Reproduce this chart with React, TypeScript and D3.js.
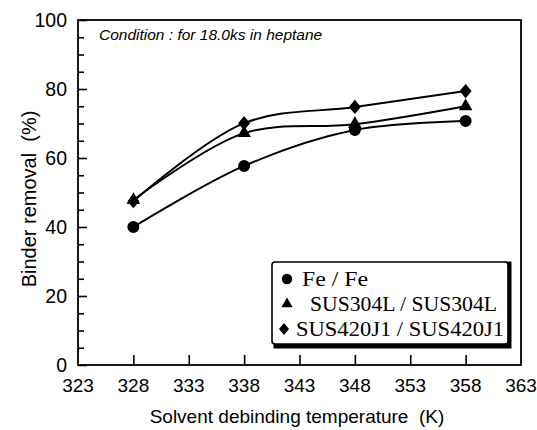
import React, { useRef, useEffect } from 'react';
import * as d3 from 'd3';

const temps = [328, 338, 348, 358];
const feFe = [40, 57.7, 68.1, 70.7];
const sus304 = [47.8, 67.2, 69.8, 75];
const sus420 = [47.5, 70.1, 74.8, 79.4];
const xTicks = [323, 328, 333, 338, 343, 348, 353, 358, 363];
const yTicks = [0, 20, 40, 60, 80, 100];
const seriesNames = ['Fe / Fe', 'SUS304L / SUS304L', 'SUS420J1 / SUS420J1'];

const W = 537;
const H = 430;

// rhombus a bit wider than d3's own diamond
const rhombus = {
  draw(ctx, size) {
    const h = Math.sqrt(size / 1.7);
    const w = h * 0.85;
    ctx.moveTo(0, -h);
    ctx.lineTo(w, 0);
    ctx.lineTo(0, h);
    ctx.lineTo(-w, 0);
    ctx.closePath();
  }
};

const App = () => {
  const svgRef = useRef(null);

  useEffect(() => {
    const svg = d3.select(svgRef.current);
    svg.selectAll('*').remove();

    const x = d3.scaleLinear().domain([323, 363]).range([78, 521]);
    const y = d3.scaleLinear().domain([0, 100]).range([365, 20]);
    const sansNum = "'Liberation Sans', sans-serif";

    // frame
    svg.append('rect')
      .attr('x', x(323)).attr('y', y(100))
      .attr('width', x(363) - x(323)).attr('height', y(0) - y(100))
      .attr('fill', 'none').attr('stroke', '#000').attr('stroke-width', 1.8);

    // y axis (ticks inside)
    const yAxis = d3.axisRight(y)
      .tickValues(d3.range(0, 101, 5))
      .tickSize(6)
      .tickFormat(() => '');
    const gy = svg.append('g').attr('transform', `translate(${x(323)},0)`).call(yAxis);
    gy.select('.domain').remove();
    gy.selectAll('line').attr('stroke-width', 1.6)
      .attr('x2', d => (yTicks.includes(d) ? 9 : 6));

    svg.append('g').selectAll('text')
      .data(yTicks)
      .join('text')
      .attr('x', 67).attr('y', d => y(d))
      .attr('dy', '0.36em')
      .attr('text-anchor', 'end')
      .attr('font-family', sansNum).attr('font-size', 19.5)
      .text(d => d);

    // x axis (ticks inside, none at the ends)
    const xAxis = d3.axisTop(x)
      .tickValues(xTicks.slice(1, -1))
      .tickSize(10)
      .tickFormat(() => '');
    const gx = svg.append('g').attr('transform', `translate(0,${y(0)})`).call(xAxis);
    gx.select('.domain').remove();
    gx.selectAll('line').attr('stroke-width', 1.6);

    svg.append('g').selectAll('text')
      .data(xTicks)
      .join('text')
      .attr('x', d => x(d)).attr('y', 392)
      .attr('text-anchor', 'middle')
      .attr('font-family', sansNum).attr('font-size', 19)
      .text(d => d);

    // axis titles
    svg.append('text')
      .attr('x', 297).attr('y', 423)
      .attr('text-anchor', 'middle')
      .style('white-space', 'pre')
      .attr('font-family', "'Liberation Sans', sans-serif").attr('font-size', 19)
      .text('Solvent debinding temperature  (K)');

    svg.append('text')
      .attr('transform', 'translate(36,199) rotate(-90)')
      .attr('text-anchor', 'middle')
      .style('white-space', 'pre')
      .attr('font-family', "'Liberation Sans', sans-serif").attr('font-size', 20)
      .text('Binder removal  (%)');

    svg.append('text')
      .attr('x', 99).attr('y', 40)
      .attr('font-family', "'Liberation Sans', sans-serif").attr('font-size', 15.5)
      .attr('font-style', 'italic')
      .text('Condition : for 18.0ks in heptane');

    // lines
    const all = [feFe, sus304, sus420];
    const line = d3.line()
      .x((d, i) => x(temps[i]))
      .y(d => y(d))
      .curve(d3.curveCatmullRom.alpha(0.5));

    svg.append('g').selectAll('path')
      .data(all)
      .join('path')
      .attr('d', d => line(d))
      .attr('fill', 'none').attr('stroke', '#000').attr('stroke-width', 2);

    const symbols = [
      d3.symbol(d3.symbolCircle, 113),
      d3.symbol(d3.symbolTriangle, 80),
      d3.symbol(rhombus, 85),
    ];

    all.forEach((vals, s) => {
      svg.append('g').selectAll('path')
        .data(vals)
        .join('path')
        .attr('transform', (d, i) => `translate(${x(temps[i])},${y(d)})`)
        .attr('d', symbols[s]())
        .attr('fill', '#000');
    });

    // legend
    const lg = svg.append('g');
    lg.append('path')
      .attr('d', 'M505,264 L509,264 L509,346 L276,346 L276,342')
      .attr('fill', 'none').attr('stroke', '#000').attr('stroke-width', 5);
    lg.append('rect')
      .attr('x', 272).attr('y', 262).attr('width', 236).attr('height', 82)
      .attr('rx', 3)
      .attr('fill', '#fff').attr('stroke', '#000').attr('stroke-width', 1.6);

    const legendSyms = [
      d3.symbol(d3.symbolCircle, 85),
      d3.symbol(d3.symbolTriangle, 55),
      d3.symbol(rhombus, 60),
    ];
    const legendX = [287, 287, 284];
    const legendTextX = [302, 310, 296];
    const legendLen = [66, 187, 208];
    seriesNames.forEach((name, i) => {
      const cy = 279 + i * 25;
      lg.append('path')
        .attr('transform', `translate(${legendX[i]},${cy})`)
        .attr('d', legendSyms[i]())
        .attr('fill', '#000');
      lg.append('text')
        .attr('x', legendTextX[i]).attr('y', cy + 7)
        .attr('font-family', "'Liberation Serif', serif").attr('font-size', 21)
        .attr('textLength', legendLen[i])
        .attr('lengthAdjust', 'spacingAndGlyphs')
        .text(name);
    });
  }, []);

  return (
    <svg ref={svgRef} width={W} height={H}
      style={{ position: 'absolute', left: 0, top: 0, background: '#fff' }} />
  );
};

export default App;
